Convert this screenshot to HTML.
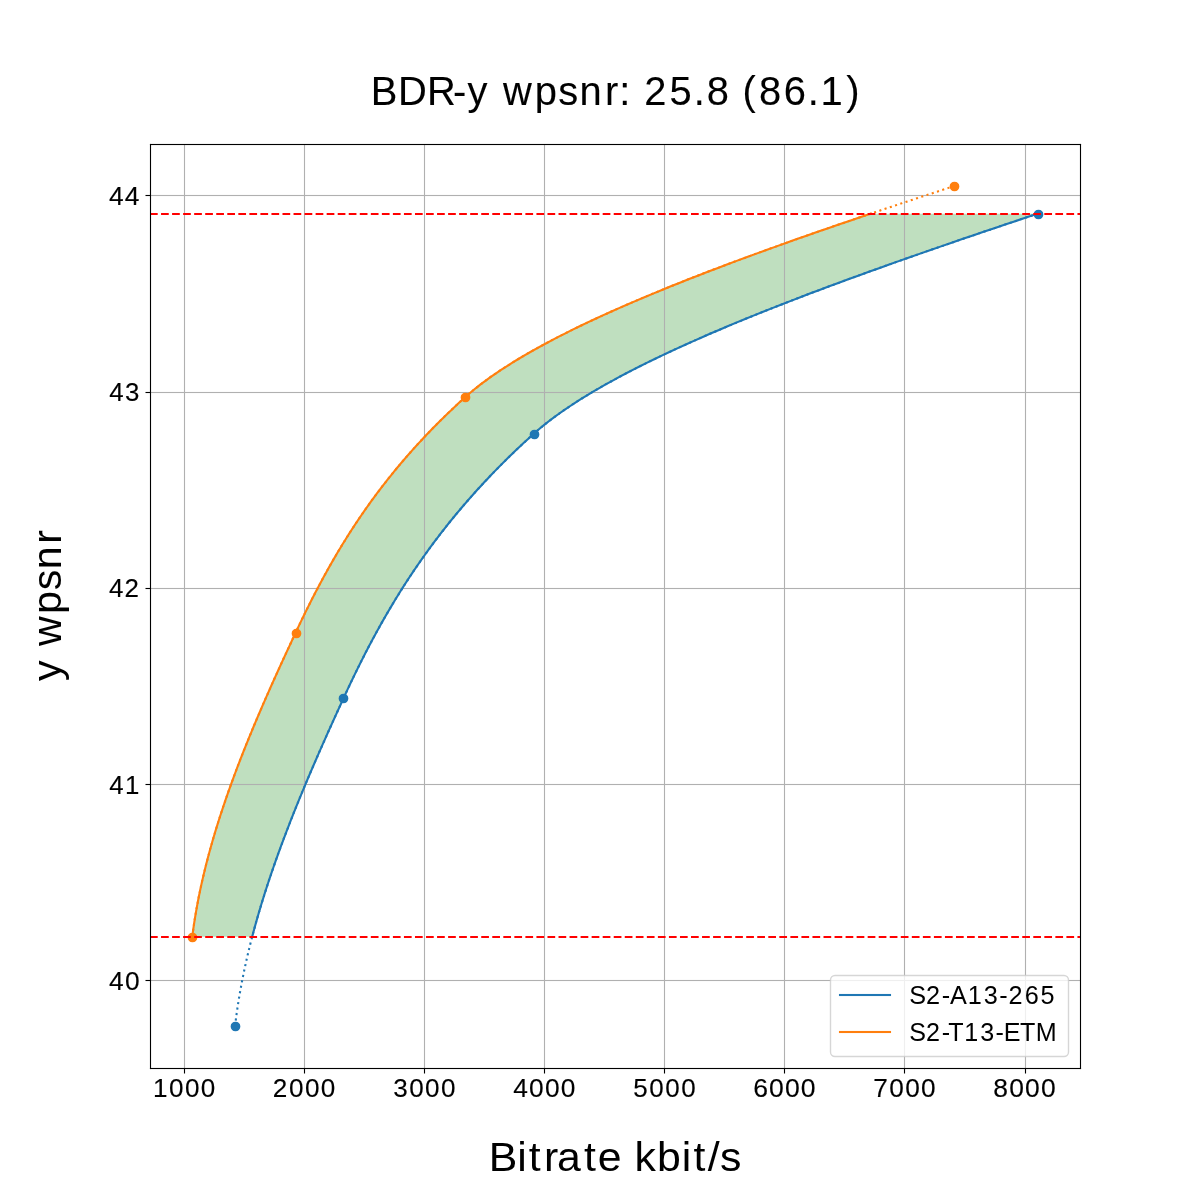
<!DOCTYPE html>
<html><head><meta charset="utf-8"><title>BDR-y wpsnr</title>
<style>html,body{margin:0;padding:0;background:#fff;width:1200px;height:1200px;overflow:hidden}svg{display:block;will-change:transform}</style>
</head><body>
<svg width="1200" height="1200" viewBox="0 0 1200 1200">
<rect x="0" y="0" width="1200" height="1200" fill="#ffffff"/>
<defs><clipPath id="ax"><rect x="150" y="144" width="930" height="924"/></clipPath></defs>
<polygon points="252.18,936.77 253.14,933.14 254.11,929.51 255.10,925.87 256.12,922.24 257.15,918.61 258.19,914.97 259.26,911.34 260.34,907.70 261.44,904.07 262.55,900.44 263.68,896.80 264.83,893.17 265.99,889.53 267.17,885.90 268.36,882.27 269.57,878.63 270.79,875.00 272.03,871.37 273.28,867.73 274.55,864.10 275.83,860.46 277.12,856.83 278.43,853.20 279.75,849.56 281.08,845.93 282.43,842.30 283.79,838.66 285.16,835.03 286.54,831.39 287.94,827.76 289.35,824.13 290.77,820.49 292.20,816.86 293.64,813.23 295.09,809.59 296.55,805.96 298.02,802.32 299.50,798.69 300.99,795.06 302.50,791.42 304.01,787.79 305.53,784.16 307.05,780.52 308.59,776.89 310.14,773.25 311.69,769.62 313.25,765.99 314.82,762.35 316.40,758.72 317.98,755.08 319.57,751.45 321.17,747.82 322.77,744.18 324.39,740.55 326.00,736.92 327.62,733.28 329.25,729.65 330.89,726.01 332.52,722.38 334.17,718.75 335.82,715.11 337.47,711.48 339.13,707.85 340.79,704.21 342.45,700.58 344.12,696.94 345.80,693.31 347.49,689.68 349.20,686.04 350.92,682.41 352.66,678.78 354.41,675.14 356.18,671.51 357.97,667.87 359.77,664.24 361.59,660.61 363.43,656.97 365.29,653.34 367.16,649.71 369.06,646.07 370.98,642.44 372.92,638.80 374.88,635.17 376.86,631.54 378.87,627.90 380.89,624.27 382.95,620.63 385.02,617.00 387.13,613.37 389.25,609.73 391.41,606.10 393.59,602.47 395.79,598.83 398.03,595.20 400.29,591.56 402.58,587.93 404.90,584.30 407.25,580.66 409.63,577.03 412.05,573.40 414.49,569.76 416.96,566.13 419.47,562.49 422.01,558.86 424.59,555.23 427.20,551.59 429.84,547.96 432.52,544.33 435.24,540.69 437.99,537.06 440.78,533.42 443.60,529.79 446.47,526.16 449.37,522.52 452.31,518.89 455.29,515.26 458.31,511.62 461.38,507.99 464.48,504.35 467.63,500.72 470.81,497.09 474.04,493.45 477.32,489.82 480.64,486.18 484.00,482.55 487.41,478.92 490.87,475.28 494.37,471.65 497.91,468.02 501.51,464.38 505.15,460.75 508.84,457.11 512.58,453.48 516.37,449.85 520.21,446.21 524.10,442.58 528.05,438.95 532.04,435.31 536.11,431.68 540.37,428.04 544.82,424.41 549.46,420.78 554.29,417.14 559.30,413.51 564.50,409.88 569.87,406.24 575.41,402.61 581.13,398.97 587.02,395.34 593.08,391.71 599.30,388.07 605.68,384.44 612.23,380.81 618.93,377.17 625.78,373.54 632.78,369.90 639.94,366.27 647.23,362.64 654.67,359.00 662.26,355.37 669.97,351.73 677.82,348.10 685.81,344.47 693.92,340.83 702.16,337.20 710.52,333.57 719.01,329.93 727.61,326.30 736.32,322.66 745.15,319.03 754.09,315.40 763.13,311.76 772.28,308.13 781.53,304.50 790.88,300.86 800.33,297.23 809.87,293.59 819.50,289.96 829.21,286.33 839.02,282.69 848.90,279.06 858.86,275.43 868.90,271.79 879.02,268.16 889.20,264.52 899.46,260.89 909.78,257.26 920.16,253.62 930.60,249.99 941.10,246.36 951.65,242.72 962.26,239.09 972.92,235.45 983.62,231.82 994.36,228.19 1005.15,224.55 1015.98,220.92 1026.84,217.28 1037.73,213.65 870.78,213.65 860.02,217.28 849.32,220.92 838.68,224.55 828.12,228.19 817.63,231.82 807.21,235.45 796.87,239.09 786.61,242.72 776.43,246.36 766.34,249.99 756.34,253.62 746.43,257.26 736.62,260.89 726.90,264.52 717.29,268.16 707.78,271.79 698.38,275.43 689.08,279.06 679.90,282.69 670.84,286.33 661.89,289.96 653.07,293.59 644.37,297.23 635.80,300.86 627.35,304.50 619.05,308.13 610.87,311.76 602.84,315.40 594.95,319.03 587.20,322.66 579.60,326.30 572.16,329.93 564.86,333.57 557.73,337.20 550.75,340.83 543.94,344.47 537.29,348.10 530.81,351.73 524.50,355.37 518.37,359.00 512.41,362.64 506.63,366.27 501.04,369.90 495.63,373.54 490.41,377.17 485.39,380.81 480.55,384.44 475.92,388.07 471.49,391.71 467.26,395.34 463.21,398.97 459.24,402.61 455.33,406.24 451.47,409.88 447.67,413.51 443.93,417.14 440.24,420.78 436.60,424.41 433.02,428.04 429.50,431.68 426.02,435.31 422.60,438.95 419.23,442.58 415.90,446.21 412.63,449.85 409.40,453.48 406.23,457.11 403.10,460.75 400.02,464.38 396.98,468.02 393.99,471.65 391.04,475.28 388.14,478.92 385.28,482.55 382.46,486.18 379.68,489.82 376.95,493.45 374.25,497.09 371.59,500.72 368.98,504.35 366.40,507.99 363.85,511.62 361.35,515.26 358.88,518.89 356.44,522.52 354.04,526.16 351.68,529.79 349.34,533.42 347.04,537.06 344.77,540.69 342.53,544.33 340.32,547.96 338.14,551.59 335.99,555.23 333.87,558.86 331.77,562.49 329.70,566.13 327.66,569.76 325.64,573.40 323.64,577.03 321.67,580.66 319.73,584.30 317.80,587.93 315.90,591.56 314.01,595.20 312.15,598.83 310.31,602.47 308.48,606.10 306.67,609.73 304.88,613.37 303.11,617.00 301.35,620.63 299.61,624.27 297.88,627.90 296.17,631.54 294.46,635.17 292.76,638.80 291.07,642.44 289.38,646.07 287.69,649.71 286.01,653.34 284.33,656.97 282.66,660.61 281.00,664.24 279.34,667.87 277.69,671.51 276.05,675.14 274.41,678.78 272.78,682.41 271.15,686.04 269.54,689.68 267.93,693.31 266.33,696.94 264.74,700.58 263.16,704.21 261.58,707.85 260.02,711.48 258.46,715.11 256.92,718.75 255.39,722.38 253.86,726.01 252.35,729.65 250.85,733.28 249.35,736.92 247.87,740.55 246.41,744.18 244.95,747.82 243.51,751.45 242.07,755.08 240.65,758.72 239.25,762.35 237.86,765.99 236.48,769.62 235.11,773.25 233.76,776.89 232.42,780.52 231.10,784.16 229.79,787.79 228.50,791.42 227.22,795.06 225.96,798.69 224.72,802.32 223.49,805.96 222.28,809.59 221.08,813.23 219.90,816.86 218.74,820.49 217.60,824.13 216.47,827.76 215.36,831.39 214.27,835.03 213.20,838.66 212.15,842.30 211.11,845.93 210.10,849.56 209.11,853.20 208.13,856.83 207.18,860.46 206.24,864.10 205.33,867.73 204.44,871.37 203.57,875.00 202.72,878.63 201.89,882.27 201.08,885.90 200.30,889.53 199.54,893.17 198.80,896.80 198.09,900.44 197.40,904.07 196.73,907.70 196.09,911.34 195.47,914.97 194.87,918.61 194.30,922.24 193.75,925.87 193.23,929.51 192.74,933.14 192.27,936.77" fill="#008000" fill-opacity="0.25" stroke="none"/>
<g fill="#b0b0b0"><rect x="183.944" y="144" width="1.111" height="924"/><rect x="303.944" y="144" width="1.111" height="924"/><rect x="423.944" y="144" width="1.111" height="924"/><rect x="543.944" y="144" width="1.111" height="924"/><rect x="663.944" y="144" width="1.111" height="924"/><rect x="783.944" y="144" width="1.111" height="924"/><rect x="903.944" y="144" width="1.111" height="924"/><rect x="1024.944" y="144" width="1.111" height="924"/><rect x="150" y="194.944" width="930" height="1.111"/><rect x="150" y="391.944" width="930" height="1.111"/><rect x="150" y="587.944" width="930" height="1.111"/><rect x="150" y="783.944" width="930" height="1.111"/><rect x="150" y="979.944" width="930" height="1.111"/></g>
<g fill="#000"><rect x="183.944" y="1068.5" width="1.111" height="5"/><rect x="303.944" y="1068.5" width="1.111" height="5"/><rect x="423.944" y="1068.5" width="1.111" height="5"/><rect x="543.944" y="1068.5" width="1.111" height="5"/><rect x="663.944" y="1068.5" width="1.111" height="5"/><rect x="783.944" y="1068.5" width="1.111" height="5"/><rect x="903.944" y="1068.5" width="1.111" height="5"/><rect x="1024.944" y="1068.5" width="1.111" height="5"/><rect x="145.5" y="194.944" width="5" height="1.111"/><rect x="145.5" y="391.944" width="5" height="1.111"/><rect x="145.5" y="587.944" width="5" height="1.111"/><rect x="145.5" y="783.944" width="5" height="1.111"/><rect x="145.5" y="979.944" width="5" height="1.111"/></g>
<g clip-path="url(#ax)">
<circle cx="235.5" cy="1026.5" r="4.167" fill="#1f77b4" stroke="#1f77b4" stroke-width="1.389"/><circle cx="343.5" cy="698.5" r="4.167" fill="#1f77b4" stroke="#1f77b4" stroke-width="1.389"/><circle cx="534.5" cy="434.5" r="4.167" fill="#1f77b4" stroke="#1f77b4" stroke-width="1.389"/><circle cx="1038.5" cy="214.5" r="4.167" fill="#1f77b4" stroke="#1f77b4" stroke-width="1.389"/>
<polyline points="252.18,936.77 253.14,933.14 254.11,929.51 255.10,925.87 256.12,922.24 257.15,918.61 258.19,914.97 259.26,911.34 260.34,907.70 261.44,904.07 262.55,900.44 263.68,896.80 264.83,893.17 265.99,889.53 267.17,885.90 268.36,882.27 269.57,878.63 270.79,875.00 272.03,871.37 273.28,867.73 274.55,864.10 275.83,860.46 277.12,856.83 278.43,853.20 279.75,849.56 281.08,845.93 282.43,842.30 283.79,838.66 285.16,835.03 286.54,831.39 287.94,827.76 289.35,824.13 290.77,820.49 292.20,816.86 293.64,813.23 295.09,809.59 296.55,805.96 298.02,802.32 299.50,798.69 300.99,795.06 302.50,791.42 304.01,787.79 305.53,784.16 307.05,780.52 308.59,776.89 310.14,773.25 311.69,769.62 313.25,765.99 314.82,762.35 316.40,758.72 317.98,755.08 319.57,751.45 321.17,747.82 322.77,744.18 324.39,740.55 326.00,736.92 327.62,733.28 329.25,729.65 330.89,726.01 332.52,722.38 334.17,718.75 335.82,715.11 337.47,711.48 339.13,707.85 340.79,704.21 342.45,700.58 344.12,696.94 345.80,693.31 347.49,689.68 349.20,686.04 350.92,682.41 352.66,678.78 354.41,675.14 356.18,671.51 357.97,667.87 359.77,664.24 361.59,660.61 363.43,656.97 365.29,653.34 367.16,649.71 369.06,646.07 370.98,642.44 372.92,638.80 374.88,635.17 376.86,631.54 378.87,627.90 380.89,624.27 382.95,620.63 385.02,617.00 387.13,613.37 389.25,609.73 391.41,606.10 393.59,602.47 395.79,598.83 398.03,595.20 400.29,591.56 402.58,587.93 404.90,584.30 407.25,580.66 409.63,577.03 412.05,573.40 414.49,569.76 416.96,566.13 419.47,562.49 422.01,558.86 424.59,555.23 427.20,551.59 429.84,547.96 432.52,544.33 435.24,540.69 437.99,537.06 440.78,533.42 443.60,529.79 446.47,526.16 449.37,522.52 452.31,518.89 455.29,515.26 458.31,511.62 461.38,507.99 464.48,504.35 467.63,500.72 470.81,497.09 474.04,493.45 477.32,489.82 480.64,486.18 484.00,482.55 487.41,478.92 490.87,475.28 494.37,471.65 497.91,468.02 501.51,464.38 505.15,460.75 508.84,457.11 512.58,453.48 516.37,449.85 520.21,446.21 524.10,442.58 528.05,438.95 532.04,435.31 536.11,431.68 540.37,428.04 544.82,424.41 549.46,420.78 554.29,417.14 559.30,413.51 564.50,409.88 569.87,406.24 575.41,402.61 581.13,398.97 587.02,395.34 593.08,391.71 599.30,388.07 605.68,384.44 612.23,380.81 618.93,377.17 625.78,373.54 632.78,369.90 639.94,366.27 647.23,362.64 654.67,359.00 662.26,355.37 669.97,351.73 677.82,348.10 685.81,344.47 693.92,340.83 702.16,337.20 710.52,333.57 719.01,329.93 727.61,326.30 736.32,322.66 745.15,319.03 754.09,315.40 763.13,311.76 772.28,308.13 781.53,304.50 790.88,300.86 800.33,297.23 809.87,293.59 819.50,289.96 829.21,286.33 839.02,282.69 848.90,279.06 858.86,275.43 868.90,271.79 879.02,268.16 889.20,264.52 899.46,260.89 909.78,257.26 920.16,253.62 930.60,249.99 941.10,246.36 951.65,242.72 962.26,239.09 972.92,235.45 983.62,231.82 994.36,228.19 1005.15,224.55 1015.98,220.92 1026.84,217.28 1037.73,213.65" fill="none" stroke="#1f77b4" stroke-width="2.083" stroke-linejoin="round" stroke-linecap="square"/>
<polyline points="235.07,1026.00 235.31,1023.96 235.56,1021.93 235.81,1019.89 236.08,1017.86 236.35,1015.82 236.62,1013.78 236.91,1011.75 237.20,1009.71 237.50,1007.68 237.81,1005.64 238.12,1003.60 238.44,1001.57 238.77,999.53 239.11,997.50 239.45,995.46 239.80,993.42 240.16,991.39 240.52,989.35 240.89,987.32 241.27,985.28 241.65,983.24 242.04,981.21 242.44,979.17 242.85,977.14 243.26,975.10 243.67,973.06 244.10,971.03 244.53,968.99 244.97,966.96 245.41,964.92 245.86,962.89 246.31,960.85 246.78,958.81 247.25,956.78 247.72,954.74 248.20,952.71 248.69,950.67 249.18,948.63 249.68,946.60 250.19,944.56 250.70,942.53 251.22,940.49 251.74,938.45 252.27,936.42 252.81,934.38 253.35,932.35 253.89,930.31 254.45,928.27 255.00,926.24 255.57,924.20 256.14,922.17 256.71,920.13 257.29,918.09 257.88,916.06 258.47,914.02 259.07,911.99 259.67,909.95 260.27,907.91 260.89,905.88 261.50,903.84 262.13,901.81 262.76,899.77 263.39,897.73 264.03,895.70 264.67,893.66 265.32,891.63 265.97,889.59 266.63,887.55 267.29,885.52 267.96,883.48 268.63,881.45 269.31,879.41 269.99,877.37 270.68,875.34 271.37,873.30 272.06,871.27 272.76,869.23 273.47,867.19 274.18,865.16 274.89,863.12 275.61,861.09 276.33,859.05 277.06,857.02 277.79,854.98 278.52,852.94 279.26,850.91 280.00,848.87 280.75,846.84 281.50,844.80 282.26,842.76 283.02,840.73 283.78,838.69 284.55,836.66 285.32,834.62 286.09,832.58 286.87,830.55 287.65,828.51 288.44,826.48 289.23,824.44 290.02,822.40 290.81,820.37 291.61,818.33 292.42,816.30 293.22,814.26 294.03,812.22 294.85,810.19 295.66,808.15 296.48,806.12 297.31,804.08 298.13,802.04 298.96,800.01 299.80,797.97 300.63,795.94 301.47,793.90 302.31,791.86 303.16,789.83 304.00,787.79 304.85,785.76 305.71,783.72 306.56,781.68 307.42,779.65 308.28,777.61 309.15,775.58 310.01,773.54 310.88,771.50 311.76,769.47 312.63,767.43 313.51,765.40 314.38,763.36 315.27,761.32 316.15,759.29 317.04,757.25 317.92,755.22 318.81,753.18 319.71,751.15 320.60,749.11 321.50,747.07 322.40,745.04 323.30,743.00 324.20,740.97 325.11,738.93 326.01,736.89 326.92,734.86 327.83,732.82 328.74,730.79 329.66,728.75 330.57,726.71 331.49,724.68 332.41,722.64 333.33,720.61 334.25,718.57 335.17,716.53 336.10,714.50 337.02,712.46 337.95,710.43 338.88,708.39 339.81,706.35 340.74,704.32 341.67,702.28 342.60,700.25 343.54,698.21 344.47,696.17 345.42,694.14 346.36,692.10 347.31,690.07 348.27,688.03 349.22,685.99 350.19,683.96 351.15,681.92 352.13,679.89 353.10,677.85 354.09,675.81 355.07,673.78 356.07,671.74 357.06,669.71 358.07,667.67 359.08,665.63 360.09,663.60 361.11,661.56 362.13,659.53 363.17,657.49 364.20,655.45 365.25,653.42 366.29,651.38 367.35,649.35 368.41,647.31 369.48,645.28 370.55,643.24 371.64,641.20 372.72,639.17 373.82,637.13 374.92,635.10 376.03,633.06 377.14,631.02 378.26,628.99 379.39,626.95 380.53,624.92 381.68,622.88 382.83,620.84 383.99,618.81 385.16,616.77 386.33,614.74 387.51,612.70 388.71,610.66 389.91,608.63 391.11,606.59 392.33,604.56 393.55,602.52 394.79,600.48 396.03,598.45 397.28,596.41 398.54,594.38 399.80,592.34 401.08,590.30 402.37,588.27 403.66,586.23 404.97,584.20 406.28,582.16 407.60,580.12 408.94,578.09 410.28,576.05 411.63,574.02 412.99,571.98 414.37,569.94 415.75,567.91 417.14,565.87 418.54,563.84 419.95,561.80 421.38,559.76 422.81,557.73 424.26,555.69 425.71,553.66 427.18,551.62 428.65,549.58 430.14,547.55 431.64,545.51 433.15,543.48 434.67,541.44 436.21,539.40 437.75,537.37 439.31,535.33 440.87,533.30 442.45,531.26 444.04,529.23 445.65,527.19 447.26,525.15 448.89,523.12 450.53,521.08 452.18,519.05 453.85,517.01 455.52,514.97 457.21,512.94 458.92,510.90 460.63,508.87 462.36,506.83 464.10,504.79 465.86,502.76 467.62,500.72 469.40,498.69 471.20,496.65 473.01,494.61 474.83,492.58 476.66,490.54 478.51,488.51 480.38,486.47 482.25,484.43 484.14,482.40 486.05,480.36 487.97,478.33 489.90,476.29 491.85,474.25 493.82,472.22 495.79,470.18 497.79,468.15 499.79,466.11 501.82,464.07 503.85,462.04 505.91,460.00 507.97,457.97 510.06,455.93 512.15,453.89 514.27,451.86 516.40,449.82 518.54,447.79 520.71,445.75 522.88,443.71 525.08,441.68 527.29,439.64 529.51,437.61 531.75,435.57 534.01,433.53 536.32,431.50 538.69,429.46 541.12,427.43 543.60,425.39 546.15,423.36 548.76,421.32 551.43,419.28 554.15,417.25 556.93,415.21 559.77,413.18 562.67,411.14 565.62,409.10 568.63,407.07 571.69,405.03 574.81,403.00 577.99,400.96 581.21,398.92 584.49,396.89 587.83,394.85 591.21,392.82 594.65,390.78 598.14,388.74 601.68,386.71 605.27,384.67 608.91,382.64 612.60,380.60 616.34,378.56 620.13,376.53 623.97,374.49 627.85,372.46 631.78,370.42 635.76,368.38 639.78,366.35 643.85,364.31 647.97,362.28 652.12,360.24 656.33,358.20 660.57,356.17 664.87,354.13 669.20,352.10 673.57,350.06 677.99,348.02 682.45,345.99 686.95,343.95 691.49,341.92 696.07,339.88 700.69,337.84 705.35,335.81 710.04,333.77 714.78,331.74 719.55,329.70 724.36,327.66 729.20,325.63 734.08,323.59 739.00,321.56 743.95,319.52 748.94,317.49 753.96,315.45 759.01,313.41 764.10,311.38 769.22,309.34 774.37,307.31 779.56,305.27 784.77,303.23 790.02,301.20 795.29,299.16 800.60,297.13 805.93,295.09 811.30,293.05 816.69,291.02 822.11,288.98 827.55,286.95 833.03,284.91 838.53,282.87 844.05,280.84 849.60,278.80 855.18,276.77 860.78,274.73 866.40,272.69 872.05,270.66 877.72,268.62 883.41,266.59 889.13,264.55 894.87,262.51 900.62,260.48 906.40,258.44 912.20,256.41 918.02,254.37 923.85,252.33 929.71,250.30 935.58,248.26 941.47,246.23 947.38,244.19 953.31,242.15 959.25,240.12 965.20,238.08 971.18,236.05 977.16,234.01 983.16,231.97 989.18,229.94 995.20,227.90 1001.25,225.87 1007.30,223.83 1013.36,221.79 1019.44,219.76 1025.53,217.72 1031.62,215.69 1037.73,213.65" fill="none" stroke="#1f77b4" stroke-width="2.083" stroke-dasharray="2.083 3.4375" stroke-linejoin="round" stroke-linecap="butt"/>
<circle cx="192.5" cy="937.5" r="4.167" fill="#ff7f0e" stroke="#ff7f0e" stroke-width="1.389"/><circle cx="296.5" cy="633.5" r="4.167" fill="#ff7f0e" stroke="#ff7f0e" stroke-width="1.389"/><circle cx="465.5" cy="397.5" r="4.167" fill="#ff7f0e" stroke="#ff7f0e" stroke-width="1.389"/><circle cx="954.5" cy="186.5" r="4.167" fill="#ff7f0e" stroke="#ff7f0e" stroke-width="1.389"/>
<polyline points="192.27,936.77 192.74,933.14 193.23,929.51 193.75,925.87 194.30,922.24 194.87,918.61 195.47,914.97 196.09,911.34 196.73,907.70 197.40,904.07 198.09,900.44 198.80,896.80 199.54,893.17 200.30,889.53 201.08,885.90 201.89,882.27 202.72,878.63 203.57,875.00 204.44,871.37 205.33,867.73 206.24,864.10 207.18,860.46 208.13,856.83 209.11,853.20 210.10,849.56 211.11,845.93 212.15,842.30 213.20,838.66 214.27,835.03 215.36,831.39 216.47,827.76 217.60,824.13 218.74,820.49 219.90,816.86 221.08,813.23 222.28,809.59 223.49,805.96 224.72,802.32 225.96,798.69 227.22,795.06 228.50,791.42 229.79,787.79 231.10,784.16 232.42,780.52 233.76,776.89 235.11,773.25 236.48,769.62 237.86,765.99 239.25,762.35 240.65,758.72 242.07,755.08 243.51,751.45 244.95,747.82 246.41,744.18 247.87,740.55 249.35,736.92 250.85,733.28 252.35,729.65 253.86,726.01 255.39,722.38 256.92,718.75 258.46,715.11 260.02,711.48 261.58,707.85 263.16,704.21 264.74,700.58 266.33,696.94 267.93,693.31 269.54,689.68 271.15,686.04 272.78,682.41 274.41,678.78 276.05,675.14 277.69,671.51 279.34,667.87 281.00,664.24 282.66,660.61 284.33,656.97 286.01,653.34 287.69,649.71 289.38,646.07 291.07,642.44 292.76,638.80 294.46,635.17 296.17,631.54 297.88,627.90 299.61,624.27 301.35,620.63 303.11,617.00 304.88,613.37 306.67,609.73 308.48,606.10 310.31,602.47 312.15,598.83 314.01,595.20 315.90,591.56 317.80,587.93 319.73,584.30 321.67,580.66 323.64,577.03 325.64,573.40 327.66,569.76 329.70,566.13 331.77,562.49 333.87,558.86 335.99,555.23 338.14,551.59 340.32,547.96 342.53,544.33 344.77,540.69 347.04,537.06 349.34,533.42 351.68,529.79 354.04,526.16 356.44,522.52 358.88,518.89 361.35,515.26 363.85,511.62 366.40,507.99 368.98,504.35 371.59,500.72 374.25,497.09 376.95,493.45 379.68,489.82 382.46,486.18 385.28,482.55 388.14,478.92 391.04,475.28 393.99,471.65 396.98,468.02 400.02,464.38 403.10,460.75 406.23,457.11 409.40,453.48 412.63,449.85 415.90,446.21 419.23,442.58 422.60,438.95 426.02,435.31 429.50,431.68 433.02,428.04 436.60,424.41 440.24,420.78 443.93,417.14 447.67,413.51 451.47,409.88 455.33,406.24 459.24,402.61 463.21,398.97 467.26,395.34 471.49,391.71 475.92,388.07 480.55,384.44 485.39,380.81 490.41,377.17 495.63,373.54 501.04,369.90 506.63,366.27 512.41,362.64 518.37,359.00 524.50,355.37 530.81,351.73 537.29,348.10 543.94,344.47 550.75,340.83 557.73,337.20 564.86,333.57 572.16,329.93 579.60,326.30 587.20,322.66 594.95,319.03 602.84,315.40 610.87,311.76 619.05,308.13 627.35,304.50 635.80,300.86 644.37,297.23 653.07,293.59 661.89,289.96 670.84,286.33 679.90,282.69 689.08,279.06 698.38,275.43 707.78,271.79 717.29,268.16 726.90,264.52 736.62,260.89 746.43,257.26 756.34,253.62 766.34,249.99 776.43,246.36 786.61,242.72 796.87,239.09 807.21,235.45 817.63,231.82 828.12,228.19 838.68,224.55 849.32,220.92 860.02,217.28 870.78,213.65" fill="none" stroke="#ff7f0e" stroke-width="2.083" stroke-linejoin="round" stroke-linecap="square"/>
<polyline points="192.27,936.77 192.51,934.89 192.76,933.01 193.01,931.13 193.27,929.25 193.54,927.37 193.81,925.48 194.09,923.60 194.38,921.72 194.67,919.84 194.97,917.96 195.28,916.08 195.60,914.19 195.92,912.31 196.24,910.43 196.58,908.55 196.92,906.67 197.26,904.79 197.62,902.90 197.98,901.02 198.34,899.14 198.71,897.26 199.09,895.38 199.47,893.50 199.86,891.61 200.26,889.73 200.66,887.85 201.07,885.97 201.48,884.09 201.90,882.21 202.33,880.32 202.76,878.44 203.20,876.56 203.64,874.68 204.09,872.80 204.55,870.92 205.01,869.03 205.47,867.15 205.95,865.27 206.42,863.39 206.91,861.51 207.40,859.63 207.89,857.75 208.39,855.86 208.89,853.98 209.40,852.10 209.92,850.22 210.44,848.34 210.97,846.46 211.50,844.57 212.03,842.69 212.58,840.81 213.12,838.93 213.67,837.05 214.23,835.17 214.79,833.28 215.36,831.40 215.93,829.52 216.51,827.64 217.09,825.76 217.67,823.88 218.26,821.99 218.86,820.11 219.46,818.23 220.07,816.35 220.68,814.47 221.29,812.59 221.91,810.70 222.53,808.82 223.16,806.94 223.79,805.06 224.43,803.18 225.07,801.30 225.71,799.41 226.36,797.53 227.02,795.65 227.67,793.77 228.34,791.89 229.00,790.01 229.67,788.12 230.35,786.24 231.03,784.36 231.71,782.48 232.40,780.60 233.09,778.72 233.78,776.83 234.48,774.95 235.18,773.07 235.89,771.19 236.59,769.31 237.31,767.43 238.02,765.54 238.74,763.66 239.47,761.78 240.20,759.90 240.93,758.02 241.66,756.14 242.40,754.26 243.14,752.37 243.89,750.49 244.63,748.61 245.38,746.73 246.14,744.85 246.90,742.97 247.66,741.08 248.42,739.20 249.19,737.32 249.96,735.44 250.73,733.56 251.51,731.68 252.29,729.79 253.07,727.91 253.85,726.03 254.64,724.15 255.43,722.27 256.23,720.39 257.02,718.50 257.82,716.62 258.62,714.74 259.43,712.86 260.23,710.98 261.04,709.10 261.86,707.21 262.67,705.33 263.49,703.45 264.31,701.57 265.13,699.69 265.95,697.81 266.78,695.92 267.61,694.04 268.44,692.16 269.27,690.28 270.11,688.40 270.94,686.52 271.78,684.63 272.62,682.75 273.47,680.87 274.31,678.99 275.16,677.11 276.01,675.23 276.86,673.34 277.71,671.46 278.57,669.58 279.42,667.70 280.28,665.82 281.14,663.94 282.00,662.05 282.86,660.17 283.73,658.29 284.59,656.41 285.46,654.53 286.33,652.65 287.20,650.76 288.07,648.88 288.94,647.00 289.82,645.12 290.69,643.24 291.57,641.36 292.45,639.48 293.33,637.59 294.21,635.71 295.09,633.83 295.97,631.95 296.86,630.07 297.75,628.19 298.64,626.30 299.54,624.42 300.44,622.54 301.34,620.66 302.25,618.78 303.16,616.90 304.08,615.01 305.00,613.13 305.92,611.25 306.85,609.37 307.79,607.49 308.73,605.61 309.67,603.72 310.62,601.84 311.57,599.96 312.53,598.08 313.50,596.20 314.47,594.32 315.44,592.43 316.42,590.55 317.41,588.67 318.40,586.79 319.40,584.91 320.40,583.03 321.41,581.14 322.43,579.26 323.45,577.38 324.48,575.50 325.52,573.62 326.56,571.74 327.61,569.85 328.66,567.97 329.72,566.09 330.79,564.21 331.87,562.33 332.95,560.45 334.04,558.56 335.14,556.68 336.24,554.80 337.35,552.92 338.47,551.04 339.60,549.16 340.73,547.27 341.88,545.39 343.03,543.51 344.19,541.63 345.36,539.75 346.53,537.87 347.72,535.98 348.91,534.10 350.11,532.22 351.32,530.34 352.54,528.46 353.77,526.58 355.00,524.70 356.25,522.81 357.50,520.93 358.77,519.05 360.04,517.17 361.33,515.29 362.62,513.41 363.92,511.52 365.23,509.64 366.56,507.76 367.89,505.88 369.23,504.00 370.58,502.12 371.95,500.23 373.32,498.35 374.70,496.47 376.10,494.59 377.50,492.71 378.92,490.83 380.35,488.94 381.78,487.06 383.23,485.18 384.69,483.30 386.16,481.42 387.65,479.54 389.14,477.65 390.65,475.77 392.17,473.89 393.69,472.01 395.24,470.13 396.79,468.25 398.35,466.36 399.93,464.48 401.52,462.60 403.12,460.72 404.74,458.84 406.37,456.96 408.01,455.07 409.66,453.19 411.32,451.31 413.00,449.43 414.69,447.55 416.40,445.67 418.12,443.78 419.85,441.90 421.59,440.02 423.35,438.14 425.13,436.26 426.91,434.38 428.71,432.49 430.52,430.61 432.35,428.73 434.20,426.85 436.05,424.97 437.92,423.09 439.81,421.20 441.71,419.32 443.62,417.44 445.55,415.56 447.50,413.68 449.45,411.80 451.43,409.92 453.42,408.03 455.42,406.15 457.44,404.27 459.48,402.39 461.53,400.51 463.60,398.63 465.68,396.74 467.80,394.86 469.98,392.98 472.21,391.10 474.50,389.22 476.84,387.34 479.24,385.45 481.69,383.57 484.19,381.69 486.74,379.81 489.35,377.93 492.01,376.05 494.72,374.16 497.48,372.28 500.29,370.40 503.15,368.52 506.06,366.64 509.02,364.76 512.02,362.87 515.08,360.99 518.18,359.11 521.34,357.23 524.54,355.35 527.78,353.47 531.07,351.58 534.41,349.70 537.79,347.82 541.22,345.94 544.70,344.06 548.21,342.18 551.78,340.29 555.38,338.41 559.03,336.53 562.72,334.65 566.45,332.77 570.23,330.89 574.04,329.00 577.90,327.12 581.80,325.24 585.74,323.36 589.72,321.48 593.73,319.60 597.79,317.71 601.89,315.83 606.02,313.95 610.19,312.07 614.40,310.19 618.64,308.31 622.93,306.42 627.24,304.54 631.60,302.66 635.99,300.78 640.41,298.90 644.87,297.02 649.36,295.14 653.89,293.25 658.45,291.37 663.04,289.49 667.67,287.61 672.33,285.73 677.02,283.85 681.74,281.96 686.49,280.08 691.27,278.20 696.08,276.32 700.92,274.44 705.79,272.56 710.69,270.67 715.62,268.79 720.58,266.91 725.56,265.03 730.57,263.15 735.61,261.27 740.68,259.38 745.77,257.50 750.88,255.62 756.02,253.74 761.19,251.86 766.38,249.98 771.59,248.09 776.83,246.21 782.09,244.33 787.37,242.45 792.68,240.57 798.01,238.69 803.36,236.80 808.73,234.92 814.12,233.04 819.53,231.16 824.96,229.28 830.41,227.40 835.88,225.51 841.37,223.63 846.87,221.75 852.40,219.87 857.94,217.99 863.50,216.11 869.07,214.22 874.67,212.34 880.27,210.46 885.90,208.58 891.53,206.70 897.19,204.82 902.85,202.93 908.53,201.05 914.23,199.17 919.93,197.29 925.65,195.41 931.39,193.53 937.13,191.64 942.88,189.76 948.65,187.88 954.43,186.00" fill="none" stroke="#ff7f0e" stroke-width="2.083" stroke-dasharray="2.083 3.4375" stroke-dashoffset="-0.3" stroke-linejoin="round" stroke-linecap="butt"/>
<line x1="150" y1="937" x2="1080" y2="937" stroke="#ff0000" stroke-width="2.083" stroke-dasharray="7.708 3.333"/>
<line x1="150" y1="214" x2="1080" y2="214" stroke="#ff0000" stroke-width="2.083" stroke-dasharray="7.708 3.333"/>
</g>
<g fill="#000"><rect x="149.944" y="143.944" width="1.111" height="925.111"/><rect x="1079.944" y="143.944" width="1.111" height="925.111"/><rect x="149.944" y="143.944" width="931.111" height="1.111"/><rect x="149.944" y="1067.944" width="931.111" height="1.111"/></g>
<g font-family="&quot;Liberation Sans&quot;, sans-serif" fill="#000">
<text transform="translate(370.69 105.11) scale(0.9776 1)" x="-0.03 27.93 57.63 84.24 99.13 121.11 135.25 167.80 191.94 213.56 239.60 254.18 266.53 279.94 305.61 330.40 343.70 367.71 380.28 397.15 422.46 447.09 460.19 486.39" y="0" font-size="40.83" stroke="#000" stroke-width="0.100">BDR-y wpsnr: 25.8 (86.1)</text>
<text transform="translate(489.81 1170.61) scale(1.0485 1)" x="-0.99 26.07 37.23 51.77 64.09 89.73 102.90 125.58 138.12 159.47 183.01 194.17 207.79 219.43" y="0" font-size="40.83">Bitrate kbit/s</text>
<text transform="translate(61.39 682.25) rotate(-90) scale(1.0104 1)" x="1.17 22.77 35.98 67.57 90.98 111.86 137.17" y="0" font-size="40.83">y wpsnr</text>
<text transform="translate(152.45 1096.72) scale(0.9841 1)" x="0.57 16.87 33.03 49.19" y="0" font-size="26.50" stroke="#000" stroke-width="0.150">1000</text>
<text transform="translate(272.43 1096.72) scale(0.9858 1)" x="0.36 16.83 32.96 49.10" y="0" font-size="26.50" stroke="#000" stroke-width="0.150">2000</text>
<text transform="translate(392.54 1096.72) scale(0.9847 1)" x="0.74 16.85 33.01 49.16" y="0" font-size="26.50" stroke="#000" stroke-width="0.150">3000</text>
<text transform="translate(512.52 1096.72) scale(0.9945 1)" x="0.62 16.62 32.61 48.60" y="0" font-size="26.50" stroke="#000" stroke-width="0.150">4000</text>
<text transform="translate(632.69 1096.72) scale(0.9806 1)" x="0.64 16.96 33.18 49.40" y="0" font-size="26.50" stroke="#000" stroke-width="0.150">5000</text>
<text transform="translate(752.61 1096.72) scale(1.0029 1)" x="0.56 16.41 32.27 48.13" y="0" font-size="26.50" stroke="#000" stroke-width="0.150">6000</text>
<text transform="translate(872.72 1096.72) scale(0.9892 1)" x="0.61 16.74 32.82 48.90" y="0" font-size="26.50" stroke="#000" stroke-width="0.150">7000</text>
<text transform="translate(992.70 1096.72) scale(0.9971 1)" x="0.60 16.55 32.50 48.46" y="0" font-size="26.50" stroke="#000" stroke-width="0.150">8000</text>
<text transform="translate(108.40 989.70) scale(0.9945 1)" x="0.62 16.61" y="0" font-size="26.50" stroke="#000" stroke-width="0.150">40</text>
<text transform="translate(108.40 793.50) scale(0.9739 1)" x="0.79 16.99" y="0" font-size="26.50" stroke="#000" stroke-width="0.150">41</text>
<text transform="translate(108.28 597.30) scale(0.9775 1)" x="0.76 16.70" y="0" font-size="26.50" stroke="#000" stroke-width="0.150">42</text>
<text transform="translate(108.40 401.10) scale(0.9754 1)" x="0.77 17.12" y="0" font-size="26.50" stroke="#000" stroke-width="0.150">43</text>
<text transform="translate(108.28 204.90) scale(0.9946 1)" x="0.62 16.61" y="0" font-size="26.50" stroke="#000" stroke-width="0.150">44</text>
</g>
<rect x="830.5" y="975.5" width="238" height="81" rx="4.5" ry="4.5" fill="#ffffff" fill-opacity="0.8" stroke="#cccccc" stroke-opacity="0.8" stroke-width="1.389"/>
<rect x="838.96" y="993.958" width="52.08" height="2.083" fill="#1f77b4"/>
<rect x="838.96" y="1030.958" width="52.08" height="2.083" fill="#ff7f0e"/>
<g font-family="&quot;Liberation Sans&quot;, sans-serif" fill="#000">
<text transform="translate(909.62 1004.00) scale(0.9616 1)" x="-0.36 17.12 33.36 42.04 60.53 77.23 93.09 102.77 119.66 136.10" y="0" font-size="26.25">S2-A13-265</text>
<text transform="translate(909.62 1040.50) scale(0.9564 1)" x="-0.32 17.26 33.57 40.28 57.16 73.94 89.88 98.40 115.46 131.80" y="0" font-size="26.25">S2-T13-ETM</text>
</g>
</svg>
</body></html>
